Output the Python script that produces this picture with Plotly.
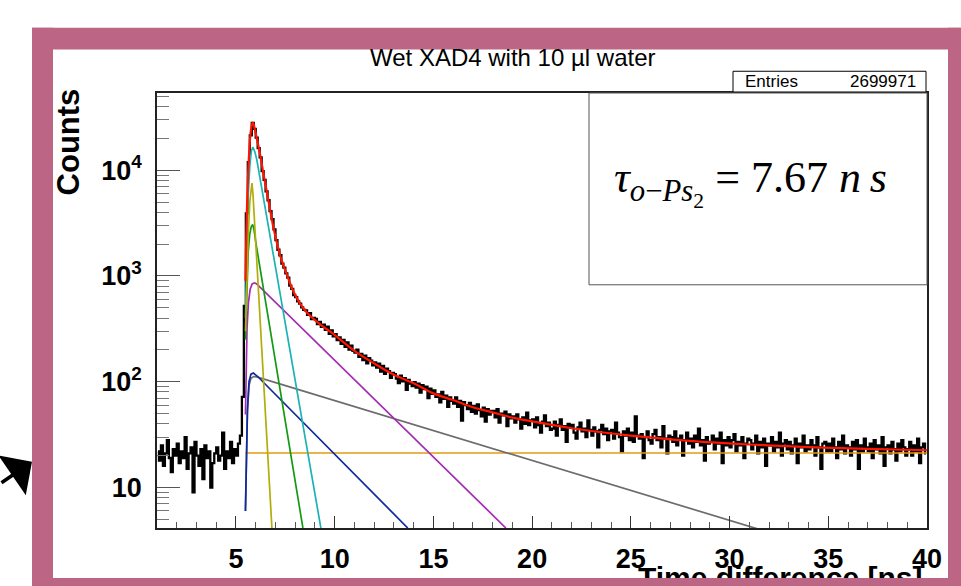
import math
import plotly.graph_objects as go

# ---------------- data ----------------
BIN_START = 1.0      # ns, lower edge of first bin
BIN_WIDTH = 0.1      # ns

# histogram counts, 1.0 ns ... 5.2 ns (pre-peak background)
counts_baseline = [22, 18, 25, 16, 21, 28, 19, 14, 23, 20,
                   26, 17, 22, 19, 30, 15, 21, 24, 9, 27,
                   20, 16, 23, 12, 25, 19, 22, 10, 17, 21,
                   24, 18, 20, 33, 15, 22, 19, 27, 17, 23,
                   20, 26]
# 5.2 ns ... 8.3 ns (prompt peak)
counts_peak = [31, 72, 520, 3900, 11900, 21300, 28000, 24600,
               20300, 16200, 13200, 9800, 8100, 6300, 5200, 4100, 3450, 2760,
               2180, 1770, 1570, 1310, 1200, 1060, 965, 810, 755, 660,
               630, 575, 548]
# 8.3 ns ... 40 ns (long-lived tail)
counts_tail = [505, 478, 472, 430, 446, 392, 401,
               392, 351, 368, 330, 347, 309, 331, 284, 305, 268,
               281, 247, 262, 228, 249, 214, 236, 201, 219, 196,
               189, 201, 172, 183, 160, 176, 149, 167, 158, 143,
               152, 136, 148, 125, 141, 119, 133, 126, 109, 121,
               118, 107, 97, 114, 101, 108, 84, 104, 96, 91,
               99, 88, 96, 79, 93, 85, 90, 70, 86, 77,
               83, 72, 76, 64, 80, 69, 74, 58, 71, 66,
               62, 71, 58, 66, 43, 64, 60, 55, 63, 52,
               59, 50, 61, 54, 47, 57, 42, 55, 49, 53,
               53, 46, 55, 41, 50, 48, 52, 38, 49, 45,
               47, 41, 49, 44, 36, 46, 40, 51, 39, 43,
               44, 37, 46, 39, 33, 42, 48, 38, 41, 35,
               36, 42, 31, 39, 44, 35, 38, 27, 40, 37,
               39, 33, 29, 37, 41, 34, 36, 30, 43, 35,
               31, 37, 34, 24, 35, 39, 32, 36, 28, 34,
               35, 29, 41, 33, 30, 22, 34, 31, 36, 28,
               33, 27, 47, 31, 29, 32, 19, 30, 34, 28,
               26, 32, 35, 28, 30, 24, 38, 29, 21, 31,
               30, 27, 34, 25, 29, 31, 20, 28, 33, 26,
               29, 24, 31, 27, 36, 25, 28, 18, 30, 26,
               27, 31, 23, 29, 26, 33, 17, 28, 25, 30,
               24, 28, 32, 22, 27, 25, 30, 19, 26, 29,
               28, 23, 26, 31, 21, 27, 24, 29, 16, 26,
               25, 30, 22, 27, 24, 33, 20, 26, 28, 23,
               27, 21, 25, 29, 17, 26, 24, 31, 22, 25,
               23, 28, 25, 20, 30, 24, 15, 26, 27, 22,
               26, 22, 29, 24, 19, 27, 23, 31, 21, 25,
               24, 20, 27, 23, 28, 15, 25, 22, 29, 24,
               22, 26, 19, 28, 23, 25, 21, 30, 16, 24,
               25, 21, 27, 23, 18, 26, 22, 28, 24, 20,
               23, 27, 20, 25, 22, 29, 17, 24, 26, 21]

# total fit function
fit_t = [5.48, 5.52, 5.56, 5.61, 5.66, 5.71, 5.76, 5.80, 5.85, 5.90, 5.95,
         6.05, 6.22, 6.38, 6.55, 6.72, 6.89, 7.06, 7.23, 7.39, 7.57, 7.73,
         7.90, 8.24, 8.58, 9.25, 9.93, 11, 12, 13, 14, 15, 16, 17, 18, 19,
         20, 22, 25, 28, 31, 34, 37, 40]
fit_n = [900, 2300, 4600, 8800, 14000, 19500, 24000, 26600, 28200, 27000, 24500,
         20200, 14100, 9500, 6400, 4320, 2910, 2110, 1580, 1280, 1040, 860,
         720, 550, 455, 350, 283, 196, 149, 116.5, 96.6, 77.6, 67.1, 57.3, 51.3, 45.8,
         42.2, 36.3, 30.9, 27.6, 25.5, 24.1, 23.2, 22.5]

# fit components
yellow_t = [5.48, 5.55, 5.62, 5.70, 5.76, 5.81, 5.86, 6.82]
yellow_n = [300, 900, 2400, 5000, 7000, 7570, 6000, 4.14]
green_t = [5.48, 5.55, 5.62, 5.70, 5.78, 5.85, 5.92, 6.00, 8.39]
green_n = [250, 800, 1700, 2500, 2950, 3060, 2700, 2100, 4.14]
cyan_t = [5.48, 5.55, 5.62, 5.70, 5.78, 5.86, 5.95, 6.05, 9.30]
cyan_n = [400, 2000, 5800, 11000, 15200, 16500, 15000, 12700, 4.14]
magenta_t = [5.48, 5.52, 5.56, 5.63, 5.72, 5.82, 5.94, 6.05, 18.67]
magenta_n = [49, 150, 320, 560, 750, 840, 861, 840, 4.14]
blue_t = [5.48, 5.52, 5.58, 5.66, 5.76, 5.88, 6.00, 6.10, 13.70]
blue_n = [6, 19, 55, 100, 118, 121, 117, 112, 4.14]
# o-Ps (second) component: rise, then exponential tail with the fitted lifetime
tau_ops2 = 7.67      # ns
grey_t = [5.48, 5.52, 5.58, 5.66, 5.76, 5.90, 6.05]
grey_n = [6, 19, 52, 92, 108, 112, 111]
orange_t = [5.48, 40.0]
orange_n = [21.2, 21.2]

entries = 2699971
title = "Wet XAD4 with 10 \u00b5l water"
x_title = "Time difference [ns]"
y_title = "Counts"

# ---------------- geometry ----------------
W, H = 961, 586
PL, PR, PT, PB = 157, 927, 93, 533   # plot-area edges in pixels
X_RANGE = [1.0, 40.0]
Y_LOG_RANGE = [math.log10(4.14), math.log10(53700)]
PINK = "#bd6585"
SANS = "Liberation Sans"


def px(x):
    return (x - PL) / (PR - PL)


def py(y):
    return (PB - y) / (PB - PT)


counts = counts_baseline + counts_peak + counts_tail
centers = [BIN_START + BIN_WIDTH * (i + 0.5) for i in range(len(counts))]

# grey tail end point from the lifetime
t_end = X_RANGE[1]
grey_tail_t = grey_t + [t_end]
grey_tail_n = grey_n + [grey_n[-1] * math.exp(-(t_end - grey_t[-1]) / tau_ops2)]

fig = go.Figure()
fig.add_trace(go.Scatter(x=centers, y=counts, mode="lines", line_shape="hvh",
                         line=dict(color="black", width=2.3), hoverinfo="skip"))

components = [
    (orange_t, orange_n, "#e39b12"),
    (grey_tail_t, grey_tail_n, "#6c6c6c"),
    (blue_t, blue_n, "#0c2a9e"),
    (magenta_t, magenta_n, "#a32cb2"),
    (green_t, green_n, "#139a13"),
    (cyan_t, cyan_n, "#1db2b6"),
    (yellow_t, yellow_n, "#b3ad0a"),
]
for t, n, c in components:
    fig.add_trace(go.Scatter(x=t, y=n, mode="lines", line=dict(color=c, width=1.7),
                             hoverinfo="skip"))
fig.add_trace(go.Scatter(x=fit_t, y=fit_n, mode="lines", line_shape="spline",
                         line=dict(color="#ff1500", width=2.2), hoverinfo="skip"))

minor_y = [m * 10 ** e for e in range(0, 5) for m in range(2, 10)]

fig.update_layout(
    width=W, height=H, autosize=False,
    margin=dict(l=PL, r=W - PR, t=PT, b=H - PB),
    paper_bgcolor="white", plot_bgcolor="white",
    showlegend=False,
    xaxis=dict(range=X_RANGE, showgrid=False, zeroline=False,
               ticks="inside", ticklen=12, tickwidth=1, tickcolor="#333",
               tick0=0, dtick=5, ticklabelstandoff=6,
               minor=dict(ticks="inside", ticklen=6, dtick=1, tick0=0, tickcolor="#555"),
               tickfont=dict(family=SANS, size=27, color="black", weight="bold"),
               showline=True, linecolor="#222", linewidth=1.5, mirror=True),
    yaxis=dict(type="log", range=Y_LOG_RANGE,
               showgrid=False, zeroline=False,
               ticks="inside", ticklen=23, tickwidth=1, tickcolor="#555",
               tickvals=[10, 100, 1000, 10000],
               ticktext=["10", "10<sup>2</sup>", "10<sup>3</sup>", "10<sup>4</sup>"],
               ticklabelstandoff=8,
               minor=dict(ticks="inside", ticklen=12, tickvals=minor_y, tickcolor="#777"),
               tickfont=dict(family=SANS, size=27, color="black", weight="bold"),
               showline=True, linecolor="#222", linewidth=1.5, mirror=True),
)

shapes = []
# side and top bands of the magenta frame
for (x0, y0, x1, y1) in [(32, 27, 53, 600), (948, 27, 975, 600), (32, 27, 975, 49)]:
    shapes.append(dict(type="rect", xref="paper", yref="paper",
                       x0=px(x0), x1=px(x1), y0=py(y1), y1=py(y0),
                       fillcolor=PINK, line=dict(width=0), layer="above"))
# statistics box
shapes.append(dict(type="rect", xref="paper", yref="paper",
                   x0=px(733), x1=px(926), y0=py(92), y1=py(71),
                   fillcolor="white", line=dict(color="black", width=1)))
# lifetime box
shapes.append(dict(type="rect", xref="paper", yref="paper",
                   x0=px(589), x1=px(927), y0=py(287), y1=py(93),
                   fillcolor="white", line=dict(color="#555", width=1), layer="above"))
fig.update_layout(shapes=shapes)

# bottom band of the frame as a filled annotation box: annotations added later
# are drawn on top of earlier ones, so it hides the lower part of the x title
bottom_band = dict(x=px(32), y=py(584), xanchor="left", yanchor="top",
                   text=" ", width=961 - 32, height=22, bgcolor=PINK,
                   borderpad=0, borderwidth=0, font=dict(size=1))

ann = [
    dict(x=px(512.5), y=py(57.5), text=title, xanchor="center", yanchor="middle",
         font=dict(family=SANS, size=24, color="black")),
    dict(x=px(925), y=py(583), text=f"<b>{x_title}</b>", xanchor="right",
         yanchor="middle", font=dict(family=SANS, size=30, color="black")),
    bottom_band,
    dict(x=px(743), y=py(81.5), text="Entries", xanchor="left", yanchor="middle",
         font=dict(family=SANS, size=17, color="black")),
    dict(x=px(918), y=py(81.5), text=f"{entries}", xanchor="right", yanchor="middle",
         font=dict(family=SANS, size=17, color="black")),
    dict(x=px(68), y=py(143), text=f"<b>{y_title}</b>", textangle=-90,
         xanchor="center", yanchor="middle",
         font=dict(family=SANS, size=31, color="black")),
    dict(x=px(750), y=py(184),
         text=(f"<i>\u03c4</i><sub><i>o</i>\u2212<i>Ps</i><sub>2</sub></sub>"
               f" = {tau_ops2:.2f} <i>n\u2009s</i>"),
         xanchor="center", yanchor="middle",
         font=dict(family="Liberation Serif", size=44, color="black")),
    dict(x=px(32), y=py(466), text="", showarrow=True, arrowhead=1,
         arrowsize=2.3, arrowwidth=3.5, arrowcolor="black", ax=-62, ay=22),
]
for a in ann:
    a.setdefault("xref", "paper")
    a.setdefault("yref", "paper")
    a.setdefault("showarrow", False)
fig.update_layout(annotations=ann)

fig.write_html("out.html")
